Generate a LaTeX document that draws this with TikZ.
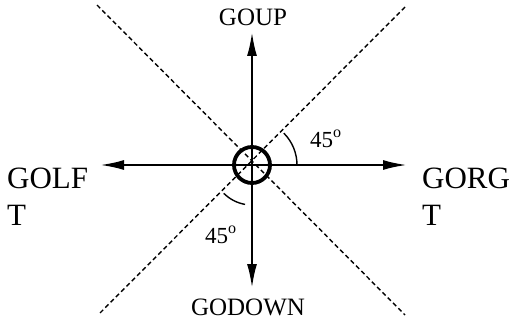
\documentclass[tikz,border=0pt]{standalone}
\usepackage{fontspec}
\setmainfont{Liberation Serif}
\usetikzlibrary{arrows.meta}
\begin{document}
\begin{tikzpicture}[x=1pt,y=1pt,
  arr/.style={line width=2.3pt,-{Latex[length=24pt,width=10pt]}},
  diag/.style={line width=1.4pt,dash pattern=on 4.5pt off 3pt},
  ang/.style={line width=1.4pt},
  small/.style={font=\fontsize{25}{30}\selectfont,inner sep=0pt},
  deg/.style={font=\fontsize{23}{28}\selectfont,inner sep=0pt},
  big/.style={font=\fontsize{31}{37}\selectfont,inner sep=0pt,align=left}]
\useasboundingbox (0,0) rectangle (513,322);
% dashed diagonals
\coordinate (d1a) at (97,317);
\coordinate (d1b) at (405,7);
\coordinate (d2a) at (405,315);
\coordinate (d2b) at (98,7);
\draw[diag] (d1a) -- (d1b);
\draw[diag] (d2a) -- (d2b);
% centre
\coordinate (o) at (252,157);
\coordinate (up) at (252,290);
\coordinate (dn) at (252,34);
\coordinate (lf) at (100,157);
\coordinate (rt) at (407,157);
\draw[arr] (o) -- (up);
\draw[arr] (o) -- (dn);
\draw[arr] (o) -- (lf);
\draw[arr] (o) -- (rt);
\node[circle,draw,line width=3.8pt,minimum size=36pt,inner sep=0pt] (c) at (o) {};
% angle arcs
\draw[ang] ([shift={(0:45)}]o) arc[start angle=0,end angle=45,radius=45];
\draw[ang] ([shift={(225:40)}]o) arc[start angle=225,end angle=260,radius=40];
% labels
\node[small,anchor=base] (lup) at (253,296) {GOUP};
\node[small,anchor=base] (ldn) at (248,7) {GODOWN};
\node[big,anchor=north west] (llf) at (7,154) {GOLF\\T};
\node[big,anchor=north west] (lrt) at (422,154) {GORG\\T};
\node[deg,anchor=base west] (a1) at (310,175) {45\textsuperscript{o}};
\node[deg,anchor=base west] (a2) at (205,79) {45\textsuperscript{o}};
\end{tikzpicture}
\end{document}
